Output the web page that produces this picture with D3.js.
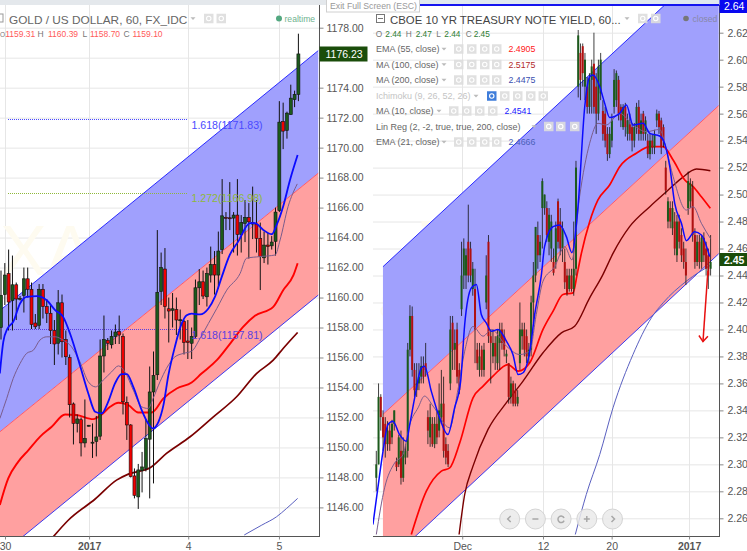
<!DOCTYPE html>
<html><head><meta charset="utf-8">
<script src="https://cdn.jsdelivr.net/npm/d3@7/dist/d3.min.js"></script>
<style>html,body{margin:0;padding:0;background:#fff;overflow:hidden}svg{display:block}text{font-family:"Liberation Sans",Arial,sans-serif}</style>
</head><body><svg id="c" width="747" height="551"></svg>
<script>
// ---------- GOLD / US DOLLAR (left) : [open, high, low, close] per hourly bar
const goldBars=[[1158,1161.8,1157.2,1160.15],[1160.2,1162.3,1159.5,1161.5],[1161.6,1163.2,1157.8,1159.7],[1159.8,1162.8,1157.8,1160.85],[1160.85,1161,1158.5,1159.9],[1159.9,1160.1,1159.8,1159.95],[1160.15,1162,1159,1161.25],[1161.25,1162,1160,1160.55],[1160.55,1161,1157.9,1158.2],[1158.3,1158.9,1157.9,1158.05],[1158.15,1160.9,1157.9,1160.55],[1160.55,1160.9,1158.6,1159.4],[1159.4,1159.9,1158.3,1158.95],[1158.95,1159.5,1156.9,1157.8],[1157.8,1158.5,1155.5,1156.9],[1156.95,1160.5,1156.2,1159.65],[1159.65,1160.2,1156,1157.05],[1157.2,1157.8,1155.5,1156.05],[1156,1156.2,1152,1152.85],[1152.9,1153,1150.2,1151.6],[1151.6,1152.2,1151,1151.9],[1151.85,1152,1149.4,1150.3],[1150.3,1153.2,1150,1150.6],[1151.42,1151.5,1151.4,1151.48],[1150.3,1151.6,1149.3,1150.35],[1150.4,1152.1,1149.4,1150.7],[1150.75,1157.2,1150.5,1156.1],[1156.1,1158.8,1155,1157.2],[1157.15,1157.3,1156.5,1156.95],[1156.85,1157.8,1156.6,1157.4],[1157.4,1158.2,1156.9,1157.7],[1157.75,1158.8,1156.9,1157.5],[1157.4,1157.6,1152.2,1153.05],[1153,1153.4,1150.5,1151.5],[1151.5,1151.55,1148,1148.05],[1148.1,1148.6,1146.6,1146.8],[1146.7,1148.9,1145.9,1148.5],[1148.45,1149.7,1147,1148.7],[1148.6,1151.9,1148.4,1150.6],[1150.55,1155.4,1146.6,1153.7],[1153.7,1156.4,1147.6,1154.8],[1154.85,1164.5,1154.5,1160.35],[1160.4,1163,1159.5,1162],[1161.9,1163.3,1158.6,1159.4],[1159.25,1160,1157,1159.1],[1159.15,1160.3,1158,1159.25],[1159.2,1160,1157.5,1158.5],[1158.48,1159.2,1157.2,1158.52],[1158.4,1158.5,1156.2,1157],[1157.1,1158.5,1155.9,1157],[1156.95,1158,1155.9,1157.4],[1157.4,1161.2,1157.3,1160.65],[1160.65,1161.9,1159.5,1161.05],[1161.05,1161.8,1159.9,1160.1],[1160.05,1162,1159.4,1161.6],[1161.5,1163.4,1161,1162.2],[1162.2,1163.1,1160.2,1161.5],[1161.5,1164.4,1160.6,1163.1],[1163.2,1167.9,1162.9,1165.45],[1165.35,1165.7,1164.5,1165.3],[1165.32,1167.7,1164.5,1165.28],[1165.3,1165.7,1163,1165.5],[1165.5,1167.9,1162.8,1164.2],[1164.2,1165.5,1163,1165],[1164.95,1166.5,1163.7,1165.35],[1165.35,1166.3,1162.6,1165.05],[1165,1167.4,1163.9,1164.9],[1164.9,1166.5,1163,1163.95],[1163.95,1165,1160.5,1162.75],[1162.65,1164.4,1162.3,1163.5],[1163.5,1164.3,1162.2,1163.4],[1163.45,1164.1,1163.2,1163.7],[1163.75,1166,1162.8,1165.7],[1165.8,1173.1,1165.7,1171.7],[1171.75,1173,1169.9,1171.1],[1171.15,1172.4,1170.6,1172.3],[1172.2,1174.2,1172.2,1173.3],[1173.2,1173.8,1172.7,1173.55],[1173.55,1177.6,1173.1,1176.25]];
const goldMA10=[[-0.3,1154.93],[0.6,1157.04],[1.7,1157.93],[3.2,1158.38],[5,1159.6],[6.7,1160.04],[9.4,1160.1],[12,1159.82],[14.2,1159.16],[16.3,1158.71],[18.1,1157.6],[20.7,1155.49],[22.9,1153.6],[24.7,1152.38],[26.4,1152.27],[28.1,1153.04],[29.9,1154.27],[31.6,1154.89],[33,1154.89],[34.7,1154.04],[36.9,1152.49],[38.6,1151.6],[39.8,1151.27],[41.3,1151.71],[42.6,1152.82],[43.9,1154.82],[45.6,1156.71],[47.4,1158.27],[48.7,1158.82],[50,1158.93],[52.2,1158.87],[54.4,1159.27],[56.1,1160.04],[57.9,1161.38],[60,1162.84],[62.2,1163.73],[65.3,1164.96],[66.6,1164.96],[68.8,1164.51],[71,1164.22],[72.3,1164.84],[74,1166.07],[75.8,1167.84],[77.8,1169.51]];
const goldEMA21=[[-0.3,1151.93],[1.5,1153.27],[3.2,1154.6],[5,1155.6],[6.7,1156.27],[8.5,1156.49],[10.2,1157.16],[12,1157.38],[14.2,1157.38],[16.3,1157.16],[18.5,1156.71],[20.7,1155.71],[22.9,1154.38],[24.8,1154.04],[26.8,1154.49],[29,1155.04],[30.8,1155.44],[32.5,1155.04],[34.7,1153.82],[36.9,1152.71],[38.6,1152.6],[39.9,1153.27],[41.7,1154.38],[43.4,1155.27],[45.6,1156.04],[47.8,1156.27],[50,1156.42],[52.2,1157.27],[54.4,1158.27],[56.6,1159.27],[59.2,1160.49],[62.7,1161.6],[64.4,1162.62],[67.9,1162.73],[71.9,1162.84],[73.2,1163.84],[75.3,1166.07],[77.7,1167.58]];
const goldEMA55=[[-0.3,1146.16],[1.9,1147.93],[4.5,1149.04],[7.2,1149.82],[10.2,1150.71],[13.3,1151.38],[16.8,1152.2],[19.8,1152.16],[24.2,1151.89],[26.4,1152.2],[28.6,1152.71],[30.8,1152.98],[33.4,1152.82],[36,1152.33],[39.5,1152.33],[42.6,1153.27],[46.1,1153.93],[50,1154.33],[52.6,1154.93],[56.6,1155.82],[60.1,1156.93],[63.5,1158.04],[66.6,1158.78],[71.4,1159.38],[74,1160.49],[76.7,1161.49],[77.8,1162.29]];
const goldMA100=[[13.7,1144.04],[17.7,1145.16],[24.7,1146.56],[30.3,1147.82],[33.4,1148.22],[39.1,1148.64],[43.4,1149.6],[49.6,1150.71],[55.7,1152.04],[61.8,1153.38],[67,1154.93],[71.4,1155.82],[74,1156.6],[77.8,1157.67]];
const goldMA200=[[63.8,1144.16],[68.4,1144.82],[72.3,1145.38],[74.9,1145.93],[77.8,1146.6]];
const goldChannelX=[-0.3,83.2], goldUpper=[1159.13,1176.47], goldMid=[1151.04,1168.29], goldLower=[1142.8,1160.16];
const goldTicks=[1146,1148,1150,1152,1154,1156,1158,1160,1162,1164,1166,1168,1170,1172,1174,1176,1178];
const goldHiddenTickLabels=[1176];
const goldDateBars=[1.05,23.1,49.1,72.9], goldDateLabels=["30","2017","4","5"];
const goldFibLabels=["1.618(1171.83)","1.272(1166.98)","1.618(1157.81)"], goldFibValues=[1171.88,1167.0,1157.87], goldFibColors=["#4a4aff","#8fb83a","#5a3fe0"];
const goldLegendLabels=["O","H","L","C"], goldLegendValues=["1159.31","1160.39","1158.70","1159.10"];

// ---------- CBOE 10 YR TREASURY NOTE YIELD (right)
const tnxBars=[[2.29,2.31,2.28,2.3],[2.3,2.36,2.3,2.35],[2.35,2.352,2.325,2.335],[2.335,2.34,2.31,2.32],[2.33,2.335,2.305,2.315],[2.315,2.332,2.31,2.325],[2.325,2.33,2.31,2.315],[2.32,2.333,2.315,2.33],[2.33,2.34,2.325,2.34],[2.302,2.305,2.295,2.298],[2.3,2.322,2.298,2.32],[2.31,2.325,2.285,2.29],[2.29,2.32,2.287,2.31],[2.305,2.315,2.3,2.31],[2.31,2.39,2.305,2.385],[2.385,2.418,2.38,2.41],[2.41,2.417,2.365,2.37],[2.37,2.375,2.35,2.355],[2.355,2.375,2.35,2.36],[2.36,2.375,2.355,2.365],[2.365,2.38,2.36,2.373],[2.373,2.38,2.36,2.365],[2.375,2.39,2.365,2.37],[2.335,2.34,2.315,2.325],[2.32,2.345,2.313,2.335],[2.33,2.335,2.313,2.315],[2.315,2.335,2.312,2.33],[2.33,2.34,2.315,2.32],[2.325,2.36,2.32,2.34],[2.335,2.37,2.33,2.345],[2.345,2.365,2.305,2.31],[2.315,2.32,2.3,2.305],[2.31,2.315,2.298,2.3],[2.36,2.41,2.355,2.4],[2.405,2.41,2.37,2.385],[2.385,2.4,2.37,2.39],[2.4,2.405,2.36,2.365],[2.37,2.375,2.352,2.355],[2.415,2.465,2.41,2.44],[2.44,2.4675,2.43,2.46],[2.44,2.46,2.43,2.455],[2.465,2.4925,2.435,2.44],[2.46,2.465,2.435,2.44],[2.43,2.45,2.425,2.445],[2.43,2.445,2.375,2.4],[2.385,2.39,2.37,2.375],[2.37,2.39,2.365,2.38],[2.385,2.388,2.365,2.37],[2.37,2.39,2.365,2.385],[2.42,2.455,2.415,2.44],[2.465,2.47,2.39,2.395],[2.395,2.4,2.36,2.39],[2.38,2.4,2.375,2.39],[2.39,2.395,2.37,2.38],[2.375,2.4,2.37,2.395],[2.39,2.405,2.37,2.4],[2.4,2.405,2.385,2.39],[2.395,2.4,2.38,2.385],[2.38,2.385,2.375,2.382],[2.375,2.375,2.345,2.35],[2.35,2.365,2.345,2.36],[2.36,2.362,2.343,2.345],[2.355,2.36,2.343,2.345],[2.345,2.355,2.343,2.35],[2.375,2.42,2.37,2.4],[2.395,2.405,2.385,2.4],[2.4,2.405,2.38,2.385],[2.395,2.4,2.375,2.38],[2.38,2.39,2.375,2.385],[2.385,2.425,2.38,2.42],[2.42,2.45,2.405,2.44],[2.44,2.476,2.435,2.476],[2.47,2.48,2.445,2.455],[2.455,2.47,2.45,2.465],[2.49,2.512,2.46,2.51],[2.49,2.5,2.485,2.5],[2.49,2.495,2.465,2.47],[2.465,2.49,2.455,2.485],[2.46,2.485,2.45,2.48],[2.45,2.46,2.44,2.442],[2.45,2.48,2.445,2.475],[2.495,2.497,2.46,2.465],[2.48,2.49,2.455,2.46],[2.46,2.48,2.45,2.475],[2.45,2.46,2.43,2.435],[2.44,2.445,2.425,2.427],[2.43,2.445,2.428,2.44],[2.44,2.445,2.428,2.43],[2.43,2.48,2.425,2.445],[2.445,2.525,2.44,2.52],[2.58,2.622,2.572,2.618],[2.605,2.612,2.57,2.585],[2.61,2.612,2.58,2.59],[2.58,2.605,2.57,2.6],[2.58,2.587,2.56,2.565],[2.565,2.59,2.56,2.585],[2.585,2.6,2.56,2.595],[2.597,2.62,2.56,2.565],[2.58,2.59,2.545,2.56],[2.56,2.6,2.555,2.595],[2.575,2.605,2.57,2.6],[2.562,2.57,2.54,2.545],[2.56,2.565,2.535,2.54],[2.545,2.55,2.525,2.53],[2.53,2.55,2.527,2.545],[2.54,2.56,2.535,2.555],[2.565,2.593,2.56,2.585],[2.57,2.592,2.565,2.59],[2.585,2.588,2.555,2.56],[2.565,2.567,2.55,2.555],[2.55,2.567,2.548,2.565],[2.565,2.568,2.543,2.55],[2.545,2.56,2.54,2.555],[2.552,2.56,2.54,2.545],[2.55,2.553,2.532,2.54],[2.54,2.553,2.535,2.55],[2.55,2.568,2.545,2.565],[2.565,2.57,2.54,2.545],[2.545,2.56,2.54,2.555],[2.56,2.562,2.54,2.545],[2.545,2.558,2.54,2.555],[2.54,2.545,2.527,2.53],[2.53,2.545,2.526,2.54],[2.54,2.545,2.53,2.535],[2.535,2.548,2.53,2.545],[2.555,2.563,2.55,2.56],[2.56,2.562,2.545,2.55],[2.555,2.557,2.53,2.535],[2.55,2.552,2.535,2.54],[2.52,2.525,2.5,2.503],[2.48,2.498,2.475,2.495],[2.49,2.495,2.475,2.48],[2.475,2.495,2.47,2.49],[2.48,2.487,2.455,2.46],[2.455,2.485,2.45,2.48],[2.48,2.485,2.46,2.465],[2.47,2.475,2.45,2.455],[2.46,2.465,2.445,2.45],[2.45,2.46,2.433,2.44],[2.49,2.517,2.485,2.51],[2.495,2.512,2.49,2.508],[2.505,2.51,2.465,2.47],[2.47,2.475,2.445,2.45],[2.45,2.47,2.447,2.465],[2.465,2.47,2.445,2.45],[2.45,2.47,2.445,2.468],[2.468,2.472,2.45,2.455],[2.46,2.465,2.44,2.445],[2.455,2.46,2.43,2.44],[2.445,2.47,2.44,2.45]];
const tnxMA10=[[-1.5,2.2554],[0.7,2.2826],[3,2.3098],[5.2,2.3295],[7.4,2.332],[10.4,2.322],[13.4,2.3171],[14.9,2.3295],[17.1,2.3493],[20.1,2.3716],[21.5,2.3728],[24.5,2.3543],[28.2,2.3345],[31.9,2.3221],[34.9,2.3419],[37.6,2.3617],[39.4,2.4037],[42.4,2.4309],[44.6,2.4333],[46.8,2.4111],[49,2.4049],[51.3,2.3987],[54.2,2.4],[58,2.3913],[60.9,2.3814],[63.2,2.3666],[65.4,2.3679],[68.4,2.3839],[70.6,2.4111],[73.6,2.4407],[75,2.4614],[78.8,2.4762],[81.7,2.4774],[84.7,2.4688],[87.2,2.4569],[89.9,2.491],[92.9,2.5651],[95.1,2.5874],[96.6,2.5886],[99.6,2.58],[101.8,2.5676],[104,2.5572],[108.5,2.5602],[111.5,2.5664],[114.4,2.5516],[118.9,2.5528],[121.9,2.5454],[126.3,2.5434],[128.5,2.538],[130.8,2.5207],[133,2.4935],[136,2.4787],[138.2,2.4658],[141.9,2.4725],[144.9,2.47],[148.6,2.454]];
const tnxEMA21=[[0,2.248],[3.7,2.2826],[8.2,2.3011],[11.9,2.3073],[14.9,2.3295],[18.6,2.3419],[21.5,2.3506],[25.3,2.3432],[32.7,2.3271],[36.4,2.3555],[39.4,2.3839],[43.1,2.4022],[47.6,2.395],[51.3,2.4],[58,2.3876],[63.9,2.3814],[68.4,2.3839],[71.3,2.4111],[74.3,2.4358],[79.5,2.4465],[84,2.4614],[87.2,2.4515],[90.6,2.4984],[95.1,2.538],[98.8,2.5528],[102.5,2.5516],[108.5,2.5602],[114.4,2.5516],[120.4,2.5466],[126.3,2.5483],[129.3,2.533],[132.3,2.5133],[138.2,2.4885],[141.2,2.491],[144.9,2.4787],[148.9,2.4675]];
const tnxEMA55=[[15.6,2.248],[22.3,2.2801],[29,2.295],[32.7,2.2974],[37.2,2.316],[43.1,2.3493],[47.6,2.358],[52,2.3654],[58.7,2.374],[63.2,2.3691],[68.4,2.3753],[74.3,2.4],[78.8,2.4136],[83.2,2.4259],[87.7,2.4271],[89.5,2.4407],[91.4,2.4564],[95.1,2.4799],[98.8,2.496],[104,2.5071],[108.5,2.5207],[115.9,2.5306],[121.9,2.5355],[127.8,2.5355],[132.3,2.5256],[137.5,2.5108],[141.2,2.5059],[144.9,2.4984],[148.9,2.4898]];
const tnxMA100=[[36.9,2.248],[39.4,2.2777],[43.1,2.2987],[49.8,2.3259],[58,2.3457],[65.4,2.3617],[74.3,2.3827],[82.5,2.3975],[88.4,2.4024],[95.1,2.4234],[101,2.4407],[105.5,2.4564],[112.9,2.4762],[121.9,2.491],[129.3,2.5021],[136,2.512],[142.7,2.5189],[148.9,2.5177]];
const tnxMA200=[[88.7,2.248],[93.6,2.2777],[99.6,2.3073],[105.5,2.3419],[114.4,2.3814],[122.6,2.4086],[127.8,2.4197],[138.2,2.4358],[148.9,2.4475]];
const tnxChannelX=[2.97,152.6], tnxUpper=[2.4465,2.6777], tnxMid=[2.337,2.5659], tnxLower=[2.2243,2.4561];
const tnxTicks=[2.26,2.28,2.3,2.32,2.34,2.36,2.38,2.4,2.42,2.44,2.46,2.48,2.5,2.52,2.54,2.56,2.58,2.6,2.62];
const tnxDateBars=[38.3,74.3,104.9,139.4], tnxDateLabels=["Dec","12","20","2017"];
const tnxArrowShaft=[[147.8,2.4435],[145.6,2.391]], tnxArrowHead=[[143.8,2.3955],[145.6,2.391],[147.8,2.395]];
const tnxOhlcLabels=["O","H","L","C"], tnxOhlcValues=["2.44","2.47","2.44","2.45"];
const tnxStudyNames=["EMA (55, close)","MA (100, close)","MA (200, close)","Ichimoku (9, 26, 52, 26)","MA (10, close)","Lin Reg (2, -2, true, true, 200, close)","EMA (21, close)"];
const tnxStudyValues=["2.4905","2.5175","2.4475","","2.4541","","2.4666"];
const tnxStudyColors=["#ff2020","#b22a2a","#3a4fb0","","#2020ff","","#4a5fb8"];

const svg=d3.select("#c");
const H={top:5,bottom:536};
const G={blue:"#0a0aff",red:"#ff0000",dark:"#7a0000",purple:"#7a5c8c",thinBlue:"#5a60c0",up:"#1c5a1c",grid:"#e6e6e6",text:"#555"};
const defs=svg.append("defs");

function panel(o){
  const id=o.id, L=o.left, R=o.right;
  const x=d3.scaleLinear().domain(o.xDomain).range(o.xRange);
  const y=d3.scaleLinear().domain(o.yDomain).range(o.yRange);
  defs.append("clipPath").attr("id",id).append("rect").attr("x",L).attr("y",H.top).attr("width",R-L).attr("height",H.bottom-H.top);
  const g=svg.append("g");
  const pl=g.append("g").attr("clip-path",`url(#${id})`);
  // grid
  pl.selectAll(".h").data(o.ticks).join("line").attr("x1",L).attr("x2",R).attr("y1",d=>y(d)+.5).attr("y2",d=>y(d)+.5).attr("stroke",G.grid);
  pl.selectAll(".v").data(o.dateBars).join("line").attr("y1",H.top).attr("y2",H.bottom).attr("x1",d=>Math.round(x(d))+.5).attr("x2",d=>Math.round(x(d))+.5).attr("stroke",G.grid);
  // watermark
  o.water.forEach(w=>pl.append("text").attr("x",w.x).attr("y",w.y).attr("font-size",w.s).attr("fill","#fefbf0").text(w.t));
  // channel
  const rows=o.cx.map((c,i)=>({x:c,u:o.up[i],m:o.mid[i],l:o.low[i]}));
  const band=(a,b)=>d3.area().x(d=>x(d.x)).y0(d=>y(d[a])).y1(d=>y(d[b]));
  pl.append("path").datum(rows).attr("d",band("m","u")).attr("fill","#a0a0fd");
  pl.append("path").datum(rows).attr("d",band("l","m")).attr("fill","#ffa0a0");
  [["u","#2a2aff",1],["m","#ff5a6a",1],["l","#3a3af0",1]].forEach(([k,c,w])=>pl.append("path").datum(rows).attr("d",d3.line().x(d=>x(d.x)).y(d=>y(d[k]))).attr("fill","none").attr("stroke",c).attr("stroke-width",w));
  if(o.fibs){
    o.fibs.vals.forEach((v,i)=>{
      const yy=Math.round(y(v))+.5;
      pl.append("line").attr("x1",8).attr("x2",187).attr("y1",yy).attr("y2",yy).attr("stroke",o.fibs.colors[i]).attr("stroke-dasharray","1,1");
    });
  }
  // lines
  const ln=d3.line().x(d=>x(d[0])).y(d=>y(d[1])).curve(d3.curveMonotoneX);
  const drawLine=(d,c,w)=>pl.append("path").datum(d).attr("d",ln).attr("fill","none").attr("stroke",c).attr("stroke-width",w);
  drawLine(o.ma200,G.thinBlue,1);
  drawLine(o.ma100,G.dark,o.lw.dark);
  drawLine(o.ema55,G.red,o.lw.red);
  // candles
  const bw=o.bodyW;
  const c=pl.selectAll(".c").data(o.bars).join("g");
  c.append("line").attr("x1",(d,i)=>x(i)).attr("x2",(d,i)=>x(i)).attr("y1",d=>y(d[1])).attr("y2",d=>y(d[2])).attr("stroke","#111").attr("stroke-width",o.wick);
  c.append("rect").attr("x",(d,i)=>x(i)-bw/2).attr("width",bw)
    .attr("y",d=>y(Math.max(d[0],d[3]))).attr("height",d=>Math.max(1,Math.abs(y(d[0])-y(d[3]))))
    .attr("fill",d=>d[3]>=d[0]?G.up:o.downFill).attr("stroke",o.bodyStroke).attr("stroke-width",.6);
  drawLine(o.ema21,G.purple,1);
  drawLine(o.ma10,G.blue,o.lw.blue);
  // frame and axes
  const hidden=o.hiddenLabels||[];
  const ax=d3.axisRight(y).tickValues(o.ticks.filter(t=>!hidden.includes(t))).tickSize(4).tickPadding(3).tickFormat(d3.format(o.fmt));
  const ag=g.append("g").attr("transform",`translate(${R+.5},0)`).call(ax);
  ag.select(".domain").remove();
  ag.selectAll("line").attr("stroke","#888");
  ag.selectAll("text").attr("font-size",10.5).attr("fill",G.text).attr("font-family",'"Liberation Sans",Arial').attr("x",o.axisPad);
  g.append("line").attr("x1",R+.5).attr("x2",R+.5).attr("y1",H.top).attr("y2",H.bottom+1).attr("stroke","#555");
  g.append("line").attr("x1",L).attr("x2",R).attr("y1",H.bottom+.5).attr("y2",H.bottom+.5).attr("stroke","#555");
  const bx=d3.axisBottom(x).tickValues(o.dateBars).tickSize(3).tickFormat((d,i)=>o.dateLabels[i]);
  const bg=g.append("g").attr("transform",`translate(0,${H.bottom+.5})`).call(bx);
  bg.select(".domain").remove();
  bg.selectAll("line").attr("stroke","#888");
  bg.selectAll("text").attr("font-size",10.5).attr("fill",G.text).attr("font-family",'"Liberation Sans",Arial')
    .attr("font-weight",d=>o.dateLabels[o.dateBars.indexOf(d)]==="2017"?"bold":null).attr("y",6);
  return {x,y,g,pl};
}

function icon(g,cx,cy,fill,w){
  const W=w||9.5;
  g.append("rect").attr("x",cx).attr("y",cy-W/2).attr("width",W).attr("height",W).attr("fill",fill||"#dddddd").attr("fill-opacity",.9);
  g.append("circle").attr("cx",cx+W/2).attr("cy",cy).attr("r",2.2).attr("fill","none").attr("stroke","#fff").attr("stroke-width",1.1);
}
function caret(g,cx,cy){g.append("path").attr("d",`M${cx-2.5},${cy-1.2}L${cx+2.5},${cy-1.2}L${cx},${cy+1.5}Z`).attr("fill","#bbb");}

// backdrop strips
svg.append("rect").attr("width",747).attr("height",551).attr("fill","#fff");
svg.append("rect").attr("x",0).attr("y",0).attr("width",373).attr("height",5).attr("fill","#e4e8ec");
svg.append("rect").attr("x",373).attr("y",0).attr("width",374).attr("height",5).attr("fill","#dfe8ef");

const left=panel({id:"cl",left:0,right:319,xDomain:[0,78],xRange:[1,298.4],yDomain:[1146,1178],yRange:[507.4,27.7],
  ticks:goldTicks,hiddenLabels:goldHiddenTickLabels,dateBars:goldDateBars,dateLabels:goldDateLabels,cx:goldChannelX,up:goldUpper,mid:goldMid,low:goldLower,
  bars:goldBars,ma10:goldMA10,ema21:goldEMA21,ema55:goldEMA55,ma100:goldMA100,ma200:goldMA200,bodyW:3,wick:1,bodyStroke:"#111",downFill:"#f00000",fmt:".2f",axisPad:7,
  lw:{blue:1.8,red:1.9,dark:1.7},
  fibs:{vals:goldFibValues,colors:goldFibColors},
  water:[{x:0,y:275,s:70,t:"XAUUSD"}]});
const right=panel({id:"cr",left:373,right:719,xDomain:[0,149],xRange:[376.3,710.6],yDomain:[2.26,2.62],yRange:[518.3,32.7],
  ticks:tnxTicks,dateBars:tnxDateBars,dateLabels:tnxDateLabels,cx:tnxChannelX,up:tnxUpper,mid:tnxMid,low:tnxLower,
  bars:tnxBars,ma10:tnxMA10,ema21:tnxEMA21,ema55:tnxEMA55,ma100:tnxMA100,ma200:tnxMA200,bodyW:2,wick:.8,bodyStroke:"none",downFill:"#b01010",fmt:".2f",axisPad:8,
  lw:{blue:1.5,red:1.7,dark:1.4},
  water:[{x:380,y:316,s:15,t:"CBOE 10 YR TREASURY NOTE YIELD"},{x:420,y:270,s:70,t:"TNX"}]});

// fib labels
goldFibLabels.forEach((t,i)=>left.g.append("text").attr("x",191.5).attr("y",left.y(goldFibValues[i])+9.5).attr("font-size",10.6).attr("fill",goldFibColors[i]).text(t));

// left header
const lh=left.g;
lh.append("rect").attr("x",-2).attr("y",14).attr("width",5).attr("height",8).attr("fill","none").attr("stroke","#999");
lh.append("text").attr("x",9).attr("y",24).attr("font-size",11.8).attr("fill","#666").text("GOLD / US DOLLAR, 60, FX_IDC");
caret(lh,193,18.5);icon(lh,204,18.5);icon(lh,216.5,18.5);
lh.append("circle").attr("cx",279).attr("cy",18.5).attr("r",3).attr("fill","#53a880");
lh.append("text").attr("x",284.5).attr("y",21.5).attr("font-size",8.6).attr("fill","#6fb38f").text("realtime");
const lx=[0,37.5,82.5,123.5], ls=[6.5,8.5,8.5,8.5], vx=[5.2,48,90,132.5];
goldLegendLabels.forEach((t,i)=>{
  lh.append("text").attr("x",lx[i]).attr("y",36.5).attr("font-size",ls[i]).attr("fill","#777").text(t);
  lh.append("text").attr("x",vx[i]).attr("y",36.5).attr("font-size",8.5).attr("fill","#ff5a5a").text(goldLegendValues[i]);
});
// left price tag
lh.append("rect").attr("x",319.5).attr("y",46.5).attr("width",48).attr("height",15).attr("fill","#1a4d0a");
lh.append("text").attr("x",325.5).attr("y",58).attr("font-size",10.5).attr("fill","#fff").text("1176.23");

// right header
const rh=right.g;
rh.append("rect").attr("x",376.5).attr("y",14.5).attr("width",8).attr("height",8).attr("fill","none").attr("stroke","#777");
rh.append("line").attr("x1",378).attr("x2",383).attr("y1",18.5).attr("y2",18.5).attr("stroke","#777");
rh.append("text").attr("x",390).attr("y",24).attr("font-size",11.4).attr("fill","#444").text("CBOE 10 YR TREASURY NOTE YIELD, 60...");
caret(rh,627,18.5);icon(rh,638,18.5);icon(rh,651,18.5);
rh.append("circle").attr("cx",686).attr("cy",18.5).attr("r",2.8).attr("fill","#777");
rh.append("text").attr("x",692.5).attr("y",21.5).attr("font-size",8.6).attr("fill","#8888a8").text("closed");
const rlx=[375.7,405.7,436.3,465.7], rvx=[385.3,415.7,444.3,473.7];
tnxOhlcLabels.forEach((t,i)=>{
  rh.append("text").attr("x",rlx[i]).attr("y",37).attr("font-size",8.3).attr("fill","#777").text(t);
  rh.append("text").attr("x",rvx[i]).attr("y",37).attr("font-size",8.3).attr("fill","#2e7d32").text(tnxOhlcValues[i]);
});
const rowY=[49,64.5,80,96,111,126.5,142], iconX=[[454,467,480,492],[454,467,480,492],[454,467,480,492],[487,500,513,526,538.5],[449,462,475,488],[544,556,570],[454,467,480,492]], valX=[508.5,508.5,508.5,0,504.5,0,508.5], carX=[444,444,444,476,439,534,444];
tnxStudyNames.forEach((t,i)=>{
  rh.append("text").attr("x",376).attr("y",rowY[i]+3).attr("font-size",9).attr("fill",i===3?"#c4c4c4":"#666").text(t);
  caret(rh,carX[i],rowY[i]);
  iconX[i].forEach((ix,j)=>icon(rh,ix,rowY[i],(i===3&&j===0)?"#2a6fd6":"#dddddd"));
  if(tnxStudyValues[i]) rh.append("text").attr("x",valX[i]).attr("y",rowY[i]+3).attr("font-size",8.8).attr("fill",tnxStudyColors[i]).text(tnxStudyValues[i]);
});
// red arrow
const aLine=d3.line().x(d=>right.x(d[0])).y(d=>right.y(d[1]));
right.pl.append("path").datum(tnxArrowShaft).attr("d",aLine).attr("fill","none").attr("stroke","#e81010").attr("stroke-width",1.5);
right.pl.append("path").datum(tnxArrowHead).attr("d",aLine).attr("fill","none").attr("stroke","#e81010").attr("stroke-width",1.5);
// nav buttons
[["M1,-3L-2,0L1,3","l"],["M-3,0L3,0","m"],["M3,-1A3.2,3.2 0 1 0 3,1.6","r"],["M-3,0L3,0M0,-3L0,3","p"],["M-1,-3L2,0L-1,3","g"]].forEach((b,i)=>{
  const nav=d3.scaleLinear().domain([0,4]).range([509.7,612.5]);
  const n=rh.append("g").attr("transform",`translate(${nav(i)},519)`);
  n.append("circle").attr("r",10).attr("fill","#eaeaea").attr("fill-opacity",.85).attr("stroke","#d4d4d4");
  n.append("path").attr("d",b[0]).attr("fill","none").attr("stroke","#a8a8a8").attr("stroke-width",1.5);
});
// top blue line and price tags
rh.append("rect").attr("x",420).attr("y",4).attr("width",299).attr("height",2).attr("fill","#1414f0");
rh.append("rect").attr("x",719.5).attr("y",0).attr("width",27.5).attr("height",13).attr("fill","#0808f0");
rh.append("text").attr("x",724).attr("y",10).attr("font-size",10.5).attr("fill","#fff").text("2.64");
rh.append("rect").attr("x",719.5).attr("y",253).attr("width",28).attr("height",13).attr("fill","#1a4d0a");
rh.append("text").attr("x",724).attr("y",264).attr("font-size",10.5).attr("font-weight","bold").attr("fill","#fff").text("2.45");
// full-screen tooltip
svg.append("rect").attr("x",326.5).attr("y",-1).attr("width",93).attr("height",13).attr("fill","#fff").attr("stroke","#d0d0d0");
svg.append("text").attr("x",330).attr("y",9).attr("font-size",8.7).attr("fill","#999").text("Exit Full Screen (ESC)");
</script></body></html>
